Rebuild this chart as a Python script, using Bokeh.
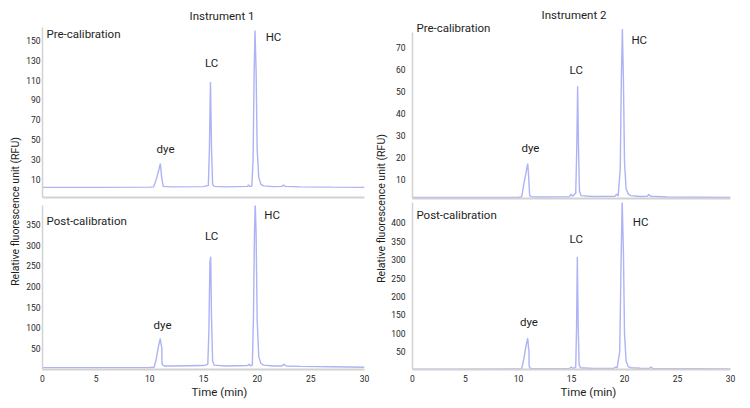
from bokeh.plotting import figure
from bokeh.models import Label, FixedTicker, Title
from bokeh.layouts import row, column
from bokeh.embed import file_html
from bokeh.resources import INLINE
import math

# ---------------- data ----------------
x_ticks = [0, 5, 10, 15, 20, 25, 30]

i1_pre_t = [0, 5, 10, 10.35, 10.6, 10.85, 10.98, 11.1, 11.25, 12, 15, 15.45, 15.55, 15.65, 15.75, 15.85, 16.0, 17,
            19.1, 19.2, 19.3, 19.5, 19.62, 19.72, 19.8, 19.9, 20.0, 20.15, 20.35, 20.6, 21.5, 22.3, 22.45, 22.6, 24, 27, 30]
i1_pre_v = [2, 2, 2.2, 2.5, 10, 20, 26, 12, 3, 2.5, 2.8, 4, 40, 108, 40, 5, 3, 2.5,
            3, 4.5, 3, 3, 30, 120, 160, 120, 40, 12, 5, 3.5, 2.8, 3, 4.5, 3, 2.5, 2.2, 2]
i1_pre_ticks = [10, 30, 50, 70, 90, 110, 130, 150]

i1_post_t = [0, 5, 10, 10.4, 10.6, 10.8, 10.97, 11.05, 11.12, 11.13, 11.2, 11.35, 12, 15, 15.4, 15.5, 15.6, 15.67,
             15.75, 15.85, 16.0, 17, 19.1, 19.25, 19.4, 19.55, 19.65, 19.75, 19.82, 19.9, 20.0, 20.15, 20.35, 20.6,
             21.5, 22.3, 22.5, 22.7, 24, 27, 30]
i1_post_v = [4, 4, 4.5, 5, 25, 55, 74, 60, 52, 15, 10, 8, 8, 9, 12, 90, 260, 272,
             120, 20, 10, 8, 9, 12, 8, 10, 120, 330, 400, 330, 120, 30, 14, 10,
             8, 8, 12, 8, 7, 6, 5]
i1_post_ticks = [50, 100, 150, 200, 250, 300, 350]

i2_pre_t = [0, 5, 10, 10.3, 10.5, 10.7, 10.87, 10.95, 11.05, 11.2, 12, 14.8, 14.95, 15.1, 15.4, 15.5, 15.58, 15.66,
            15.75, 15.9, 17, 19.1, 19.25, 19.4, 19.6, 19.7, 19.8, 19.9, 20.0, 20.15, 20.35, 20.6, 21.5, 22.15, 22.3,
            22.45, 24, 27, 30]
i2_pre_v = [2, 2, 2, 2.3, 8, 13, 17.3, 12, 3, 2.3, 2.2, 2.3, 3.5, 2.5, 4, 25, 52.5, 25,
            5, 2.8, 2.4, 2.5, 3.5, 2.6, 15, 55, 78.5, 55, 18, 6, 3.5, 2.8, 2.4, 2.5, 3.3,
            2.5, 2.2, 2.1, 2]
i2_pre_ticks = [10, 20, 30, 40, 50, 60, 70]

i2_post_t = [0, 5, 10, 10.3, 10.5, 10.7, 10.87, 10.95, 10.99, 11.0, 11.08, 11.25, 12, 14.8, 14.98, 15.15, 15.4,
             15.48, 15.55, 15.63, 15.72, 15.85, 17, 19.0, 19.16, 19.3, 19.55, 19.68, 19.78, 19.9, 20.0, 20.15, 20.35,
             20.6, 21.5, 22.35, 22.5, 22.65, 24, 27, 30]
i2_post_v = [3, 3, 3.5, 4, 30, 65, 87, 60, 52, 12, 6, 5, 4.5, 5, 9, 5, 8,
             120, 307, 120, 15, 7, 5, 5.5, 9, 6, 50, 300, 460, 320, 100, 25, 10,
             7, 5.5, 5, 9, 5, 4.5, 4, 3.5]
i2_post_ticks = [50, 100, 150, 200, 250, 300, 350, 400]

instrument_titles = ["Instrument 1", "Instrument 2"]
panel_titles = ["Pre-calibration", "Post-calibration"]
peak_names = ["dye", "LC", "HC"]
y_label = "Relative fluorescence unit (RFU)"
x_label = "Time (min)"

# ---------------- styling ----------------
FONT = "Roboto"
TXT = "#1e1e1e"
LINE = "#adb3f5"
AXIS = "#d2d2d2"


def style_axis(ax):
    ax.axis_line_color = AXIS
    ax.axis_line_width = 1.5
    ax.major_tick_line_color = None
    ax.minor_tick_line_color = None
    ax.major_tick_out = 0
    ax.major_tick_in = 0
    ax.minor_tick_out = 0
    ax.minor_tick_in = 0
    ax.major_label_text_font = FONT
    ax.major_label_text_font_size = "8.5px"
    ax.major_label_text_color = TXT


def side_title(text, offset, standoff, valign):
    return Title(text=text, align="left", offset=offset, standoff=standoff,
                 vertical_align=valign, text_font=FONT, text_font_size="11.5px",
                 text_font_style="normal", text_color=TXT)


def panel(t, v, yr, yticks, w, h, mbl, mbr, mbt, mbb, bottom, ystand, ybounds=None):
    p = figure(width=w, height=h, x_range=(0, 30), y_range=yr, title=None,
               output_backend="svg", toolbar_location=None,
               min_border_left=mbl, min_border_right=mbr,
               min_border_top=mbt, min_border_bottom=mbb)
    p.outline_line_color = None
    p.grid.visible = False
    for ax in p.axis:
        style_axis(ax)
    p.line(t, v, line_color=LINE, line_width=1.4)
    p.yaxis.ticker = FixedTicker(ticks=yticks)
    p.yaxis.major_label_standoff = ystand
    if ybounds is not None:
        p.yaxis.bounds = ybounds
    p.xaxis.axis_line_width = 2
    if bottom:
        p.xaxis.ticker = FixedTicker(ticks=x_ticks)
        p.xaxis.major_label_standoff = 5
    else:
        p.xaxis.ticker = FixedTicker(ticks=[])
        p.xaxis.major_label_text_font_size = "0px"
        p.xaxis.major_label_standoff = 0
    return p


def add_text(p, x, y, text, align="center"):
    p.add_layout(Label(x=x, y=y, text=text, text_font=FONT, text_font_size="11.5px",
                       text_color=TXT, text_align=align, text_baseline="middle"))


def ylabel_fig(w, xpos, ypos):
    f = figure(width=w, height=400, x_range=(0, 1), y_range=(0, 1), title=None,
               x_axis_location=None, y_axis_location=None,
               output_backend="svg", toolbar_location=None,
               min_border_left=0, min_border_right=0, min_border_top=0, min_border_bottom=0)
    f.outline_line_color = None
    f.grid.visible = False
    f.add_layout(Label(x=xpos, y=ypos, text=y_label, angle=math.pi / 2, text_font=FONT,
                       text_font_size="10.5px", text_color=TXT, text_align="center",
                       text_baseline="middle"))
    return f


# ---------- Instrument 1 ----------
tl = panel(i1_pre_t, i1_pre_v, (-8.2, 163), i1_pre_ticks, 350, 203, 20, 8, 27, 6, False, 2)
tl.add_layout(side_title(instrument_titles[0], 147, 10, "bottom"), "above")
add_text(tl, 0.37, 156, panel_titles[0], align="left")
add_text(tl, 11.46, 41, peak_names[0])
add_text(tl, 15.75, 127, peak_names[1])
add_text(tl, 21.52, 153, peak_names[2])

bl = panel(i1_post_t, i1_post_v, (-0.5, 396), i1_post_ticks, 350, 197, 20, 8, 2, 28, True, 2)
bl.add_layout(side_title(x_label, 149, 0, "top"), "below")
add_text(bl, 0.37, 359, panel_titles[1], align="left")
add_text(bl, 11.18, 107, peak_names[0])
add_text(bl, 15.75, 322, peak_names[1])
add_text(bl, 21.4, 372, peak_names[2])

# ---------- Instrument 2 ----------
tr = panel(i2_pre_t, i2_pre_v, (1.5, 81.5), i2_pre_ticks, 354, 201, 19, 12, 22, 3, False, 7, (1.5, 77))
tr.add_layout(side_title(instrument_titles[1], 129, 2, "bottom"), "above")
add_text(tr, 0.37, 78.9, panel_titles[0], align="left")
add_text(tr, 11.12, 24.4, peak_names[0])
add_text(tr, 15.45, 60, peak_names[1])
add_text(tr, 21.39, 73.6, peak_names[2])

br = panel(i2_post_t, i2_post_v, (2.1, 455), i2_post_ticks, 354, 199, 19, 12, 1, 28, True, 7)
br.add_layout(side_title(x_label, 148, 0, "top"), "below")
add_text(br, 0.37, 422, panel_titles[1], align="left")
add_text(br, 10.99, 130, peak_names[0])
add_text(br, 15.45, 356, peak_names[1])
add_text(br, 21.52, 403, peak_names[2])

layout = row(ylabel_fig(22, 0.68, 0.4725), column(tl, bl), ylabel_fig(16, 0.5625, 0.48), column(tr, br))

open("out.html", "w").write(file_html(layout, INLINE))
